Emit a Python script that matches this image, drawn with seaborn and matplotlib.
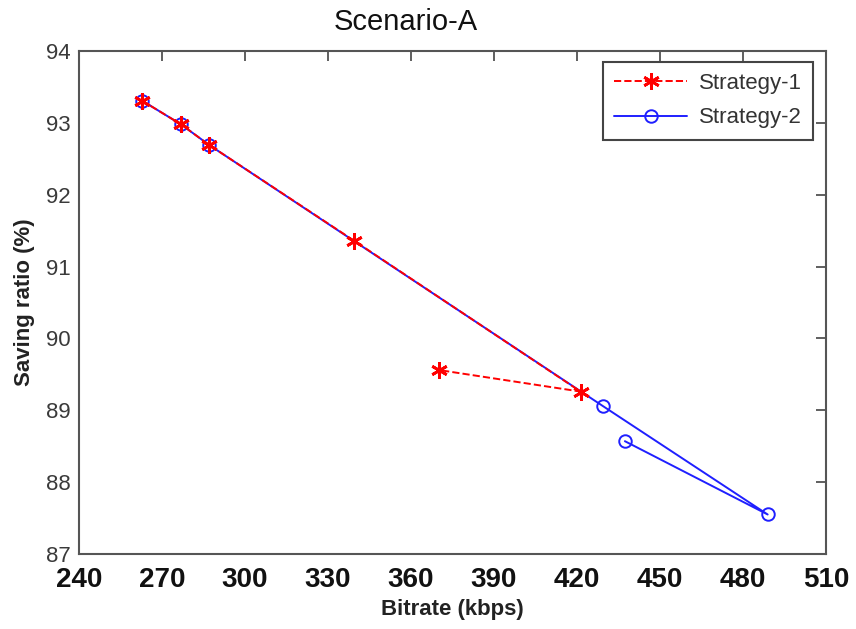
import matplotlib
matplotlib.use("Agg")
import matplotlib.pyplot as plt
import seaborn as sns
import pandas as pd
from matplotlib import font_manager

# Bitrate (kbps) and saving ratio (%) for each strategy, in drawing order
s1_bitrate = [262.7, 276.8, 287.1, 339.4, 421.3, 370.1]
s1_saving = [93.31, 92.98, 92.69, 91.36, 89.26, 89.56]

s2_bitrate = [262.7, 276.8, 287.1, 429.3, 488.9, 437.3]
s2_saving = [93.31, 92.98, 92.69, 89.06, 87.55, 88.57]

series_names = ["Strategy-1", "Strategy-2"]
x_ticks = [240, 270, 300, 330, 360, 390, 420, 450, 480, 510]
y_ticks = [87, 88, 89, 90, 91, 92, 93, 94]

sns.set_style("white")
available = {f.name for f in font_manager.fontManager.ttflist}
base_font = "Liberation Sans" if "Liberation Sans" in available else "DejaVu Sans"
plt.rcParams["font.family"] = [base_font, "DejaVu Sans"]

df = pd.concat([
    pd.DataFrame({"bitrate": s1_bitrate, "saving": s1_saving,
                  "strategy": series_names[0]}),
    pd.DataFrame({"bitrate": s2_bitrate, "saving": s2_saving,
                  "strategy": series_names[1]}),
])

fig = plt.figure(figsize=(8.56, 6.29), dpi=100)
ax = fig.add_axes([0.0923, 0.1192, 0.8727, 0.7998])

styles = {
    # six-armed asterisk marker
    series_names[0]: dict(color="#ff0000", linestyle="--", marker=(6, 2, 0),
                          markersize=12, markeredgewidth=2.0,
                          markeredgecolor="#ff0000", linewidth=1.4,
                          dashes=(3, 3)),
    series_names[1]: dict(color="#1f1fff", linestyle="-", marker="o",
                          markersize=9, markerfacecolor="none",
                          markeredgecolor="#1f1fff", markeredgewidth=1.4,
                          linewidth=1.4),
}

# Strategy-2 first so the red dashes and asterisks sit on top of the blue line
for name in [series_names[1], series_names[0]]:
    sub = df[df["strategy"] == name]
    sns.lineplot(data=sub, x="bitrate", y="saving", sort=False, ax=ax,
                 label=name, estimator=None, **styles[name])

ax.set_xlim(240, 510)
ax.set_ylim(87, 94)
ax.set_xticks(x_ticks)
ax.set_yticks(y_ticks)
ax.set_xticklabels([str(t) for t in x_ticks], fontsize=20, fontweight="bold")
ax.set_yticklabels([str(t) for t in y_ticks], fontsize=16)
ax.tick_params(axis="both", direction="in", length=7, width=1.2,
               colors="#444444", top=True, right=True)
ax.tick_params(axis="x", labelcolor="#111111", pad=9)
ax.tick_params(axis="y", labelcolor="#3a3a3a", pad=6)
for sp in ax.spines.values():
    sp.set_color("#555555")
    sp.set_linewidth(1.5)

ax.set_xlabel("Bitrate (kbps)", fontsize=16, fontweight="bold",
              color="#222222", labelpad=5)
ax.set_ylabel("Saving ratio (%)", fontsize=16, fontweight="bold",
              color="#222222", labelpad=8)
fig.text(406 / 856, 1 - 22 / 629, "Scenario-A", ha="center", va="center",
         fontsize=21, color="#111111")

handles, labels = ax.get_legend_handles_labels()
order = [labels.index(series_names[0]), labels.index(series_names[1])]
leg = ax.legend([handles[i] for i in order], [labels[i] for i in order],
                loc="upper right", bbox_to_anchor=(0.982, 0.978),
                frameon=True, fancybox=False, framealpha=1,
                edgecolor="#444444", handlelength=3.3, borderpad=0.5,
                labelspacing=0.6, handletextpad=0.5, borderaxespad=0.0,
                prop={"size": 16})
leg.get_frame().set_linewidth(1.5)
for t in leg.get_texts():
    t.set_color("#333333")

fig.savefig("out.png", dpi=100, facecolor="white")
